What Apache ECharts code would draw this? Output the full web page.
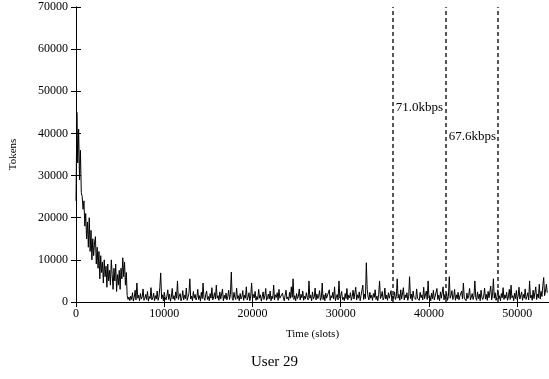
<!DOCTYPE html>
<html>
<head>
<meta charset="utf-8">
<script src="https://cdn.jsdelivr.net/npm/echarts@6/dist/echarts.min.js"></script>
<style>
html,body{margin:0;padding:0;background:#fff;}
#chart{width:549px;height:379px;}
</style>
</head>
<body>
<div id="chart"></div>
<script>
// Sampling grid of the trace (slots)
const sampleStep = 100;
// Token counts, one per sample (t = 0, 100, 200, ...)
const tokensStart = [
  24000, 45000, 33000, 41000, 29000, 36000, 26000, 25000, 22000, 24000,
  18000, 21000, 15000, 19000, 13000, 20000, 12000, 17000, 10000, 15000,
  11000, 14000, 15500, 9000, 13000, 8000, 12000, 5500, 11000, 7000,
  9500, 4500, 10000, 6000, 8500, 3500, 9000, 5000, 7500, 4000,
  10000, 6500, 3000, 8000, 5000, 9000, 2500, 6500, 4000, 7500,
  3000, 8000, 5500, 10500, 6000, 9500, 4000, 7000, 1500, 600, 1200
];
const tokensRest = [
  300, 1400, 600, 2200, 200, 1100, 2800, 500, 4500, 900, 1600, 300, 2000, 700, 1200, 3100, 400, 900, 1800, 600, 2500, 200, 1300, 800, 3400,
  500, 1000, 2100, 300, 1500, 700, 2600, 400, 1200, 3500, 6900, 800, 1700, 300, 2300, 1000, 500, 1400, 2900, 600, 1900, 200, 1100, 3200, 700,
  1500, 400, 2400, 900, 5000, 600, 1300, 2000, 300, 1000, 2700, 500, 1600, 800, 3300, 400, 1200, 2100, 5500, 700, 1400, 300, 2500, 900, 1800,
  500, 1100, 3000, 600, 1500, 200, 2300, 800, 4500, 1000, 400, 1700, 2600, 600, 1300, 300, 2000, 900, 3400, 500, 1200, 2200, 700, 4000, 900,
  1500, 400, 2400, 700, 1000, 3100, 300, 1600, 800, 2100, 500, 1300, 2800, 600, 1800, 7100, 900, 400, 2300, 1100, 600, 3300, 800, 1500, 300,
  2000, 700, 1200, 2700, 400, 1600, 900, 3600, 500, 1100, 2200, 300, 1400, 4500, 700, 1800, 1000, 2500, 400, 1300, 600, 3000, 900, 1700, 200,
  1200, 2400, 600, 1500, 3200, 400, 1000, 1900, 700, 2600, 300, 1400, 800, 4000, 500, 1700, 1100, 2200, 400, 3000, 900, 1300, 600, 2100, 1000,
  300, 1600, 2800, 700, 1200, 400, 2300, 900, 3600, 1100, 5500, 600, 1500, 300, 2000, 800, 1300, 3100, 500, 1800, 1000, 2600, 400, 1400, 700,
  2200, 1100, 500, 5000, 900, 1600, 300, 2400, 700, 1200, 3300, 500, 1900, 800, 1400, 2700, 400, 1000, 4500, 600, 1700, 300, 2100, 900, 1300,
  600, 2900, 400, 1500, 1000, 2300, 700, 3600, 300, 1200, 1800, 500, 5000, 900, 1400, 2500, 600, 1100, 300, 2000, 800, 3200, 500, 1600, 1000,
  2200, 400, 1300, 2800, 700, 1000, 3500, 500, 1700, 900, 2400, 300, 1500, 1100, 4000, 600, 1900, 800, 9300, 3000, 1200, 500, 2300, 900, 1600,
  400, 2000, 1100, 2900, 600, 1400, 300, 1800, 5000, 800, 1300, 2500, 500, 1000, 3300, 700, 1600, 400, 2200, 900, 1200, 2700, 300, 1500, 800,
  2400, 600, 1300, 5500, 900, 1800, 400, 2900, 700, 1100, 3400, 500, 1700, 1000, 2200, 400, 1400, 6000, 800, 1900, 300, 2600, 1100, 1500, 600,
  3100, 900, 1300, 400, 2300, 1000, 1700, 500, 3500, 800, 1200, 2600, 600, 5000, 1000, 1500, 300, 2100, 800, 2800, 500, 1400, 1000, 3200, 600,
  1600, 300, 2400, 900, 1200, 3600, 500, 1800, 700, 2200, 400, 1300, 6000, 900, 1500, 2700, 600, 1100, 3000, 400, 1700, 800, 2300, 500, 1400,
  1000, 2600, 700, 4500, 900, 1300, 300, 2100, 800, 1600, 3200, 500, 1200, 2000, 600, 1500, 5000, 1000, 400, 2400, 800, 1900, 300, 2800, 1100,
  600, 1400, 3300, 700, 1800, 400, 2500, 1000, 1300, 3800, 500, 1600, 5500, 900, 2200, 400, 1200, 2900, 700, 1500, 300, 2000, 1000, 3400, 600,
  1700, 900, 2300, 400, 1200, 3000, 600, 4000, 1000, 1500, 300, 2100, 800, 2700, 500, 1400, 3500, 700, 1100, 2400, 400, 1800, 900, 3100, 600,
  1300, 2200, 500, 5000, 1000, 1600, 400, 2800, 800, 1200, 3600, 600, 1900, 1000, 4200, 700, 2500, 1300, 3900, 5800, 1500, 2600, 4200, 2200
];
// Vertical marker positions (slots) and annotations
const markerSlots = [35900, 41900, 47800];
const annotations = [
  { text: '71.0kbps', slot: 35900, tokens: 46200 },
  { text: '67.6kbps', slot: 41900, tokens: 39300 }
];
const yTicks = [0, 10000, 20000, 30000, 40000, 50000, 60000, 70000];
const xTicks = [0, 10000, 20000, 30000, 40000, 50000];
const xMax = 53600;
const yMax = 70000;

const tokens = tokensStart.concat(tokensRest);
const seriesData = tokens.map((v, i) => [i * sampleStep, v]);

const serif = '"Liberation Serif", "DejaVu Serif", serif';
const chart = echarts.init(document.getElementById('chart'), null, { renderer: 'canvas' });
const axisLine = { show: true, lineStyle: { color: '#000', width: 1 } };
chart.setOption({
  animation: false,
  backgroundColor: '#fff',
  title: {
    text: 'User 29',
    left: 'center',
    top: 350,
    textStyle: { fontFamily: serif, fontSize: 15, fontWeight: 'normal', color: '#000' }
  },
  grid: { left: 73, top: 7, width: 477, height: 295 },
  xAxis: [
    {
      type: 'value', min: 0, max: xMax, interval: 10000,
      name: 'Time (slots)', nameLocation: 'middle', nameGap: 27,
      nameTextStyle: { fontFamily: serif, fontSize: 11, color: '#000' },
      axisLine: axisLine,
      axisTick: { show: true, inside: true, length: 5, lineStyle: { color: '#000' } },
      axisLabel: {
        fontFamily: serif, fontSize: 12, color: '#000', margin: 6,
        showMaxLabel: false,
        formatter: v => xTicks.includes(v) ? String(v) : ''
      },
      splitLine: { show: false }
    },
    {
      type: 'value', position: 'top', min: 0, max: xMax, interval: 10000,
      axisLine: axisLine,
      axisTick: { show: true, inside: true, length: 5, lineStyle: { color: '#000' } },
      axisLabel: { show: false }, splitLine: { show: false }
    }
  ],
  yAxis: [
    {
      type: 'value', min: 0, max: yMax, interval: 10000,
      name: 'Tokens', nameLocation: 'middle', nameGap: 57, nameRotate: 90,
      nameTextStyle: { fontFamily: serif, fontSize: 11, color: '#000' },
      axisLine: axisLine,
      axisTick: { show: true, inside: true, length: 5, lineStyle: { color: '#000' } },
      axisLabel: {
        fontFamily: serif, fontSize: 12, color: '#000', margin: 8,
        formatter: v => yTicks.includes(v) ? String(v) : ''
      },
      splitLine: { show: false }
    },
    {
      type: 'value', position: 'right', min: 0, max: yMax, interval: 10000,
      axisLine: axisLine,
      axisTick: { show: true, inside: true, length: 5, lineStyle: { color: '#000' } },
      axisLabel: { show: false }, splitLine: { show: false }
    }
  ],
  series: [
    {
      type: 'line',
      data: seriesData,
      showSymbol: false,
      symbol: 'none',
      lineStyle: { color: '#000', width: 1 },
      z: 3,
      markLine: {
        silent: true,
        symbol: ['none', 'none'],
        label: { show: false },
        lineStyle: { color: '#222', width: 1.5, type: [4, 3] },
        data: markerSlots.map(s => ({ xAxis: s }))
      },
      markPoint: {
        silent: true,
        symbol: 'circle',
        symbolSize: 0,
        data: annotations.map(a => ({
          coord: [a.slot, a.tokens],
          label: {
            show: true, position: 'right', distance: 3,
            formatter: a.text,
            fontFamily: serif, fontSize: 13, color: '#000'
          }
        }))
      }
    }
  ]
});
</script>
</body>
</html>
